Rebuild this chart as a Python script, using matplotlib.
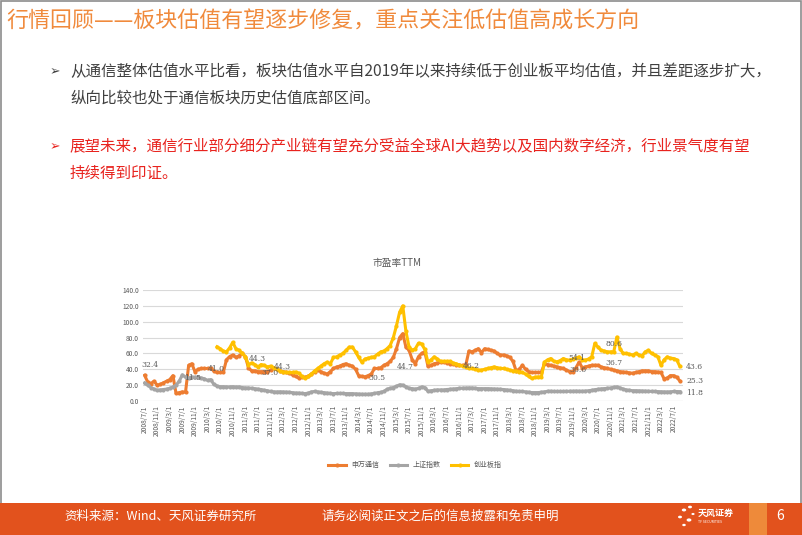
import matplotlib
matplotlib.use("Agg")
import matplotlib.pyplot as plt
import numpy as np
import pandas as pd
from matplotlib.patches import Rectangle, Circle

plt.rcParams['font.family'] = ['Noto Sans CJK SC', 'DejaVu Sans']

# ---- data: monthly PE TTM, 2008/7 .. 2022/9 ----
start_month = "2008-07-01"

sw_telecom = [
    32.4, 24, 22, 25, 20, 21,                                   # 2008 H2
    23, 25, 27, 32, 9.5, 10.5, 11.5, 11, 45, 47, 37, 40,        # 2009
    41, 41, 41, 41, 38, 36, 36, 36, 52, 56, 58, 55,             # 2010
    57, 60, 56, 42, 38, 38, 37, 37, 37, 37, 39, 41,             # 2011
    40, 38, 37, 36, 35, 33, 31, 29, 30, 30, 31, 34,             # 2012
    37, 39, 37, 35, 34, 37, 41, 43, 44, 46, 47, 45,             # 2013
    44, 40, 32, 31, 30.5, 32, 34, 41, 41, 42, 45, 47,           # 2014
    50, 55, 66, 80, 85, 68, 64, 52, 47, 56, 60, 62,             # 2015
    44, 45, 47, 48, 49, 49, 48, 47, 47, 46, 45, 45,             # 2016
    45, 63, 62, 64, 66, 61, 66, 65, 64, 63, 60, 58,             # 2017
    58, 57, 55, 50, 38, 40, 45, 40, 37, 36, 36, 36,             # 2018
    36, 47, 46, 45, 44, 43, 42, 41, 39, 37, 37, 42,             # 2019
    49, 42, 43, 44, 45, 45, 45, 43, 42, 41, 40, 39,             # 2020
    38, 37, 36.5, 36, 35.5, 35, 36, 37, 38, 38, 38, 37,         # 2021
    37, 36.5, 36, 28, 29, 32, 32, 30, 25.3,                     # 2022
]

sse_index = [
    22.8, 20, 17, 15, 13.5, 14,
    14.5, 15, 16, 17.7, 20, 25, 33, 30, 29, 30, 30, 30,
    29, 28, 26, 27, 21, 19, 18, 18, 17.7, 17.7, 18, 17.5,
    17.7, 17, 16.5, 16.5, 16, 15.5, 15, 14.5, 13.5, 13, 12, 11.5,
    11.4, 11.6, 11.4, 11.2, 11, 10.5, 10, 10, 9.5, 9.3, 10, 11.5,
    12, 11.5, 11, 10.5, 10, 9.5, 9.3, 9.5, 9.5, 9.5, 9.3, 9.3,
    9.3, 9, 8.8, 8.5, 8.5, 8.5, 9, 9.5, 10.5, 11, 12, 14.8,
    16, 17, 18.5, 20.5, 20, 18, 16, 15.6, 15, 16, 17.7, 17,
    12.3, 13, 13.5, 14, 14, 14, 14.5, 14.8, 15, 15.5, 16, 16.2,
    16.5, 16.5, 16.5, 16, 15.6, 15.6, 15.6, 15.6, 15.4, 15.2, 15, 14.8,
    14.5, 14, 13.5, 13, 12.3, 12, 12, 11.5, 11, 10.6, 10.6, 10.6,
    11, 11.5, 12.3, 12.3, 12, 12, 12, 12, 12.2, 12.3, 12.3, 12.5,
    12.3, 12.3, 12.5, 13, 13.5, 14.3, 14.8, 15.3, 15.6, 16, 16.5, 17.2,
    17.7, 16.5, 15, 14, 13.5, 13, 13, 12.8, 12.5, 12.3, 12.3, 12.2,
    12, 11.8, 11.5, 11.5, 11.4, 11.6, 12.0, 11.9, 11.8,
]

# ChiNext index starts 2010/6
chinext = [np.nan] * 23 + [
    68.4, 66, 63, 62, 67, 74, 66,                               # 2010 Jun-Dec
    64, 60, 56, 46, 48, 46, 43, 46, 45, 43, 44, 42,             # 2011
    40, 38, 36.5, 36, 36, 36, 36.5, 35, 31, 28.4, 31, 34,       # 2012
    38, 41, 44, 47, 49, 47, 55, 55.7, 58, 60, 64, 68,           # 2013
    68, 62, 55, 49, 53, 54, 55, 56, 59, 62, 63, 66,             # 2014
    70, 80, 95, 112, 120, 88, 68, 64, 66, 73, 72, 65,           # 2015
    49, 52, 55.7, 53, 50, 50, 50, 50, 48, 47, 45, 44,           # 2016
    43, 41, 41, 40, 39, 39, 40, 41, 42, 43, 42, 41,             # 2017
    41, 40, 39, 38, 37.5, 36.7, 36, 34, 31, 28.4, 30, 30.4,     # 2018
    30.4, 49, 52, 53.6, 50, 49.4, 51, 53.6, 52, 51.5, 53, 54.1, # 2019
    55.7, 52, 51.5, 53, 55.7, 72.6, 68, 64, 63, 62, 62, 62,     # 2020
    80.6, 66, 60, 60, 59, 58, 60, 58, 57, 62, 64, 60,           # 2021
    58, 56, 45, 52, 55.7, 54, 53.6, 52, 43.6,                   # 2022
]

series_names = ["申万通信", "上证指数", "创业板指"]
series_colors = ["#ED7D31", "#A5A5A5", "#FFC000"]

# data labels shown on the chart: (month index, y position, text)
point_labels = [
    (-1, 45, "32.4"), (12.5, 29, "11.5"), (20, 40, "41.0"), (33, 53, "44.3"),
    (37, 35, "37.0"), (41, 42.5, "44.3"), (71, 29, "30.5"), (80, 43, "44.7"),
    (101, 44, "46.2"), (134.5, 54, "54.1"), (135, 38.5, "36.6"),
    (146.5, 72, "80.6"), (146.5, 48, "36.7"),
    (172, 43, "43.6"), (172, 25, "25.3"), (172, 10, "11.8"),
]

dates = pd.date_range(start_month, periods=len(sw_telecom), freq="MS")
x = np.arange(len(dates))

# ---- slide ----
W, H = 802, 535
fig = plt.figure(figsize=(W / 100, H / 100), dpi=100)
fig.patch.set_facecolor("white")


def fx(px):
    return px / W


def fy(py):
    return 1 - py / H


# frame
fig.patches.append(Rectangle((0.001, 0.001), 0.998, 0.997, transform=fig.transFigure,
                             fill=False, edgecolor="#8C8C8C", linewidth=1.2))

fig.text(fx(6), fy(22), "行情回顾——板块估值有望逐步修复，重点关注低估值高成长方向",
         color="#F08A3C", fontsize=15.8, va="center", ha="left", weight="medium")

dark = "#404040"
red = "#E8231E"
fig.text(fx(50), fy(72), "➢", family="DejaVu Sans", color=dark, fontsize=9, va="center")
fig.text(fx(70), fy(72), "从通信整体估值水平比看，板块估值水平自2019年以来持续低于创业板平均估值，并且差距逐步扩大，",
         color=dark, fontsize=11.2, va="center")
fig.text(fx(70), fy(98), "纵向比较也处于通信板块历史估值底部区间。", color=dark, fontsize=11.2, va="center")
fig.text(fx(50), fy(147), "➢", family="DejaVu Sans", color=red, fontsize=9, va="center")
fig.text(fx(70), fy(147), "展望未来，通信行业部分细分产业链有望充分受益全球AI大趋势以及国内数字经济，行业景气度有望",
         color=red, fontsize=11.2, va="center")
fig.text(fx(70), fy(173), "持续得到印证。", color=red, fontsize=11.2, va="center")

# footer band
fig.patches.append(Rectangle((0, 0), 1, fy(503), transform=fig.transFigure,
                             facecolor="#E2521D", edgecolor="none"))
fig.patches.append(Rectangle((fx(749), 0), fx(18), fy(503), transform=fig.transFigure,
                             facecolor="#EE8A3A", edgecolor="none"))
fig.text(fx(64), fy(516), "资料来源：Wind、天风证券研究所", color="white", fontsize=9, va="center")
fig.text(fx(321), fy(516), "请务必阅读正文之后的信息披露和免责申明", color="white", fontsize=9, va="center")
fig.text(fx(776), fy(516), "6", color="white", fontsize=10, va="center")
# logo
for cx, cy, r in [(684, 510, 2.2), (690, 507, 2.0), (680, 517, 2.0), (689, 520, 2.4), (684, 525, 1.8), (693, 514, 1.6)]:
    fig.patches.append(Circle((fx(cx), fy(cy)), r / W, transform=fig.transFigure,
                              facecolor="white", edgecolor="none"))
fig.text(fx(698), fy(513), "天风证券", color="white", fontsize=6.5, va="center", weight="bold")
fig.text(fx(698), fy(522), "TF SECURITIES", color="white", fontsize=2.5, va="center")

# ---- chart ----
ax = fig.add_axes([fx(143), fy(401), fx(683) - fx(143), fy(290) - fy(401)])
for vals, name, color in zip([sw_telecom, sse_index, chinext], series_names, series_colors):
    ax.plot(x, vals, color=color, linewidth=2.2, marker="o", markersize=3,
            markeredgewidth=0, label=name)

ax.set_xlim(-0.5, 171)
ax.set_ylim(0, 140)
ax.set_yticks(np.arange(0, 141, 20))
ax.set_yticklabels([f"{v:.1f}" for v in np.arange(0, 141, 20)])
tick_idx = x[::4]
ax.set_xticks(tick_idx)
ax.set_xticklabels([f"{d.year}/{d.month}/{d.day}" for d in dates[::4]], rotation=90)
ax.tick_params(axis="both", length=0, labelsize=4.8, labelcolor="#595959", pad=3)
ax.grid(axis="y", color="#D9D9D9", linewidth=0.8)
ax.set_axisbelow(True)
for s in ax.spines.values():
    s.set_visible(False)
ax.axhline(0, color="#D9D9D9", linewidth=0.8)

for mx, my, txt in point_labels:
    ax.text(mx, my, txt, fontsize=5.5, color="#595959", va="center", ha="left",
            family="DejaVu Serif")

fig.text(fx(397), fy(263), "市盈率TTM", color="#595959", fontsize=7, ha="center", va="center")
fig.legend(loc="center", bbox_to_anchor=(fx(415), fy(465)), ncol=3, frameon=False,
           fontsize=5, labelcolor="#595959", handlelength=2.5, columnspacing=1.5)

fig.savefig("out.png", dpi=100)
